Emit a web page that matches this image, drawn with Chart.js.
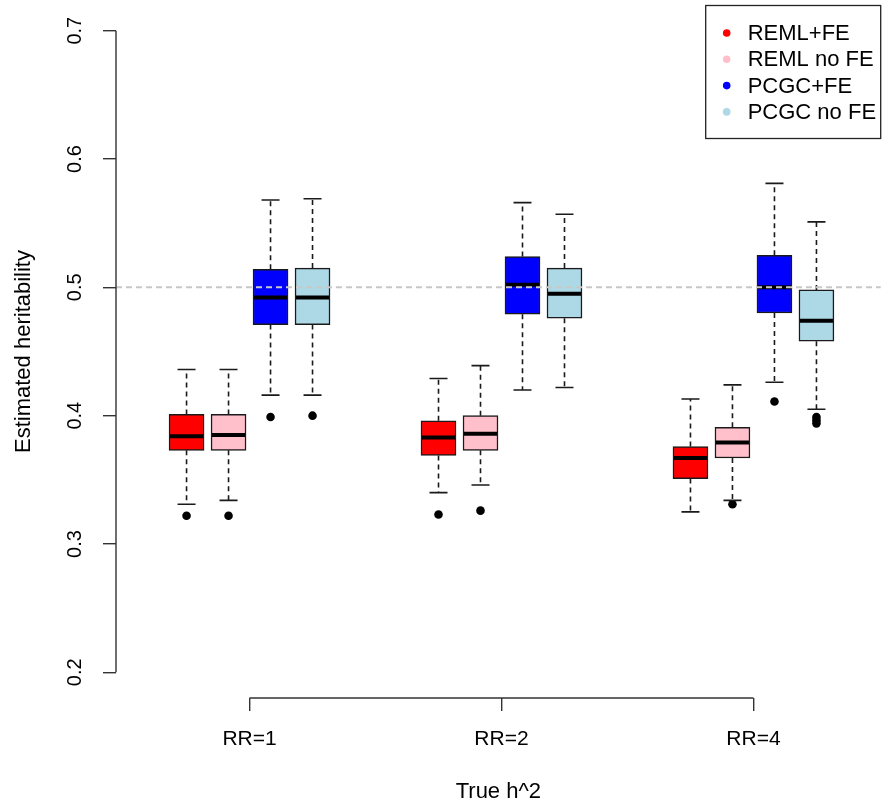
<!DOCTYPE html>
<html>
<head>
    <script src="https://cdn.jsdelivr.net/npm/chart.js@4.4.0/dist/chart.umd.min.js"></script>
    <title>Estimated heritability</title>
    <style>
        html, body { margin: 0; padding: 0; background: #fff; }
    </style>
</head>
<body>
    <canvas id="h2Chart" width="885" height="805"></canvas>

    <script>
    // groups on the x axis and the four estimators
    const groups = ['RR=1', 'RR=2', 'RR=4'];
    const methods = ['REML+FE', 'REML no FE', 'PCGC+FE', 'PCGC no FE'];
    const colours = ['#ff0000', '#ffc0cb', '#0000ff', '#add8e6'];

    // box summaries, one row per method, one column per RR group
    const whiskerLow = [
        [0.331, 0.340, 0.325],
        [0.334, 0.346, 0.334],
        [0.416, 0.420, 0.426],
        [0.416, 0.422, 0.405]
    ];
    const quart1 = [
        [0.373, 0.369, 0.351],
        [0.373, 0.373, 0.367],
        [0.471, 0.479, 0.480],
        [0.471, 0.476, 0.458]
    ];
    const medians = [
        [0.384, 0.383, 0.367],
        [0.385, 0.386, 0.379],
        [0.492, 0.502, 0.500],
        [0.492, 0.495, 0.474]
    ];
    const quart3 = [
        [0.401, 0.396, 0.376],
        [0.401, 0.400, 0.391],
        [0.514, 0.524, 0.525],
        [0.515, 0.515, 0.498]
    ];
    const whiskerHigh = [
        [0.436, 0.429, 0.413],
        [0.436, 0.439, 0.424],
        [0.568, 0.566, 0.581],
        [0.569, 0.557, 0.551]
    ];
    const outliers = [
        [[0.322], [0.323], []],
        [[0.322], [0.326], [0.331]],
        [[0.399], [], [0.411]],
        [[0.400], [], [0.399, 0.3965, 0.394]]
    ];

    const yTicks = [0.2, 0.3, 0.4, 0.5, 0.6, 0.7];
    const trueH2 = 0.5;

    const FONT = '"Liberation Sans", Arial, Helvetica, sans-serif';

    // boxes sit at 1..4, 7..10, 13..16
    function boxPos(g, m) { return 1 + 6 * g + m; }
    function groupCentre(g) { return 2.5 + 6 * g; }

    const datasets = methods.map((name, m) => ({
        type: 'bar',
        label: name,
        data: groups.map((_, g) => ({ x: boxPos(g, m), y: [quart1[m][g], quart3[m][g]] })),
        backgroundColor: colours[m],
        borderColor: '#1a1a1a',
        borderWidth: 1.5,
        borderSkipped: false,
        barThickness: 35,
        grouped: false
    }));

    const outlierPoints = [];
    outliers.forEach((row, m) => row.forEach((vals, g) => vals.forEach(v => {
        outlierPoints.push({ x: boxPos(g, m), y: v });
    })));

    datasets.push({
        type: 'scatter',
        label: 'outliers',
        data: outlierPoints,
        pointRadius: 4.3,
        pointBackgroundColor: '#000',
        pointBorderWidth: 0
    });

    // whiskers, staples, medians and the true h^2 line
    const boxParts = {
        id: 'boxParts',
        afterDatasetsDraw(chart) {
            const { ctx, chartArea } = chart;
            const xs = chart.scales.x, ys = chart.scales.y;
            ctx.save();
            methods.forEach((_, m) => {
                groups.forEach((_, g) => {
                    const px = xs.getPixelForValue(boxPos(g, m));
                    const lo = ys.getPixelForValue(whiskerLow[m][g]);
                    const q1 = ys.getPixelForValue(quart1[m][g]);
                    const q3 = ys.getPixelForValue(quart3[m][g]);
                    const hi = ys.getPixelForValue(whiskerHigh[m][g]);
                    const md = ys.getPixelForValue(medians[m][g]);

                    ctx.strokeStyle = '#1a1a1a';
                    ctx.lineWidth = 1.6;
                    ctx.setLineDash([5, 4]);
                    ctx.beginPath();
                    ctx.moveTo(px, q3); ctx.lineTo(px, hi);
                    ctx.moveTo(px, q1); ctx.lineTo(px, lo);
                    ctx.stroke();

                    ctx.setLineDash([]);
                    ctx.beginPath();
                    ctx.moveTo(px - 9, hi); ctx.lineTo(px + 9, hi);
                    ctx.moveTo(px - 9, lo); ctx.lineTo(px + 9, lo);
                    ctx.stroke();

                    ctx.strokeStyle = '#000';
                    ctx.lineWidth = 4;
                    ctx.beginPath();
                    ctx.moveTo(px - 16.5, md); ctx.lineTo(px + 16.5, md);
                    ctx.stroke();
                });
            });

            const yRef = ys.getPixelForValue(trueH2);
            ctx.strokeStyle = '#c8c8c8';
            ctx.lineWidth = 2;
            ctx.setLineDash([6, 4]);
            ctx.beginPath();
            ctx.moveTo(chartArea.left, yRef);
            ctx.lineTo(chartArea.right, yRef);
            ctx.stroke();
            ctx.restore();
        }
    };

    // axis lines only between the outer ticks
    const axisLines = {
        id: 'axisLines',
        afterDraw(chart) {
            const { ctx, chartArea } = chart;
            const xs = chart.scales.x, ys = chart.scales.y;
            ctx.save();
            ctx.strokeStyle = '#333';
            ctx.lineWidth = 1.4;
            ctx.beginPath();
            ctx.moveTo(chartArea.left, ys.getPixelForValue(yTicks[0]));
            ctx.lineTo(chartArea.left, ys.getPixelForValue(yTicks[yTicks.length - 1]));
            ctx.moveTo(xs.getPixelForValue(groupCentre(0)), chartArea.bottom);
            ctx.lineTo(xs.getPixelForValue(groupCentre(groups.length - 1)), chartArea.bottom);
            ctx.stroke();
            ctx.restore();
        }
    };

    // boxed legend in the top right corner of the plot
    const methodLegend = {
        id: 'methodLegend',
        afterDraw(chart) {
            const { ctx, chartArea } = chart;
            const w = 175, h = 133, rowH = 26.3;
            const left = chartArea.right - w, top = chartArea.top + 0.5;
            ctx.save();
            ctx.fillStyle = '#fff';
            ctx.fillRect(left, top, w, h);
            ctx.strokeStyle = '#222';
            ctx.lineWidth = 1.3;
            ctx.strokeRect(left, top, w, h);
            ctx.font = '22px ' + FONT;
            ctx.textBaseline = 'middle';
            ctx.textAlign = 'left';
            methods.forEach((name, m) => {
                const y = top + 27.5 + m * rowH;
                ctx.fillStyle = colours[m];
                ctx.beginPath();
                ctx.arc(left + 21, y, 3.8, 0, Math.PI * 2);
                ctx.fill();
                ctx.fillStyle = '#000';
                ctx.fillText(name, left + 42, y + 1);
            });
            ctx.restore();
        }
    };

    const ctx = document.getElementById('h2Chart');

    const chart = new Chart(ctx, {
        type: 'bar',
        data: { datasets: datasets },
        plugins: [boxParts, axisLines, methodLegend],
        options: {
            responsive: false,
            animation: false,
            devicePixelRatio: 1,
            layout: { padding: { left: 0, right: 2, top: 5, bottom: 0 } },
            plugins: {
                legend: { display: false },
                tooltip: { enabled: false }
            },
            scales: {
                x: {
                    type: 'linear',
                    min: -0.68,
                    max: 17.53,
                    offset: false,
                    afterBuildTicks: s => { s.ticks = groups.map((_, g) => ({ value: groupCentre(g) })); },
                    afterFit: s => {
                        s.height = 107;
                        s.paddingLeft = 0; s.paddingRight = 0;
                    },
                    border: { display: false },
                    grid: { offset: false, drawOnChartArea: false, tickLength: 13, color: '#333', lineWidth: 1.4 },
                    ticks: {
                        padding: 16,
                        maxRotation: 0,
                        color: '#000',
                        font: { family: FONT, size: 21 },
                        callback: v => groups[Math.round((v - 2.5) / 6)]
                    },
                    title: {
                        display: true,
                        text: 'True h^2',
                        color: '#000',
                        font: { family: FONT, size: 22 },
                        padding: { top: 0, bottom: 0 }
                    }
                },
                y: {
                    type: 'linear',
                    min: 0.18,
                    max: 0.72,
                    afterBuildTicks: s => { s.ticks = yTicks.map(v => ({ value: v })); },
                    afterFit: s => {
                        s.width = 116;
                        s.paddingTop = 0; s.paddingBottom = 0;
                    },
                    border: { display: false },
                    grid: { drawOnChartArea: false, tickLength: 13, color: '#333', lineWidth: 1.4 },
                    ticks: {
                        minRotation: 90,
                        maxRotation: 90,
                        crossAlign: 'center',
                        padding: 14,
                        color: '#000',
                        font: { family: FONT, size: 20 },
                        callback: v => v.toFixed(1)
                    },
                    title: {
                        display: true,
                        text: 'Estimated heritability',
                        color: '#000',
                        font: { family: FONT, size: 22 },
                        padding: { top: 11, bottom: 0 }
                    }
                }
            }
        }
    });
    </script>
</body>
</html>
